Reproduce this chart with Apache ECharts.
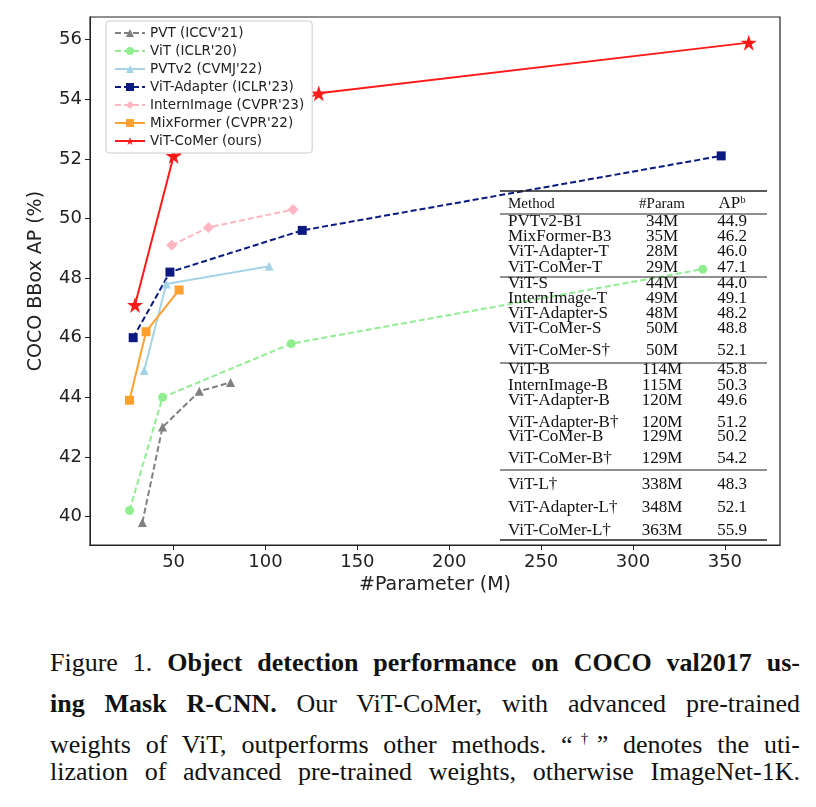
<!DOCTYPE html>
<html><head><meta charset="utf-8">
<script src="https://cdn.jsdelivr.net/npm/echarts@6/dist/echarts.min.js"></script>
<style>
body{margin:0;background:#fff;width:816px;height:807px;overflow:hidden}
#c{width:816px;height:600px}
#cap{position:absolute;left:50px;top:646px;width:750px;font-family:"Liberation Serif",serif;font-size:26px;color:#111}
#cap div{height:34px;line-height:34px;text-align:justify;text-align-last:justify;white-space:nowrap}
#cap div.first{height:41px}
</style></head><body>
<div id="c"></div>
<div id="cap">
<div class="first">Figure 1. <b>Object detection performance on COCO val2017 us-</b></div>
<div><b>ing Mask R-CNN.</b> Our ViT-CoMer, with advanced pre-trained</div>
<div>weights of ViT, outperforms other methods. “<sup style="font-size:15px">†</sup>” denotes the uti-</div>
<div>lization of advanced pre-trained weights, otherwise ImageNet-1K.</div>
</div>
<script>
// data
const pvt = [[33, 39.8], [44, 43.0], [64, 44.2], [81, 44.5]];
const vit = [[26, 40.2], [44, 44.0], [114, 45.8], [338, 48.3]];
const pvtv2 = [[34, 44.9], [46, 47.8], [102, 48.4]];
const vitAdapter = [[28, 46.0], [48, 48.2], [120, 49.6], [348, 52.1]];
const internImage = [[49, 49.1], [69, 49.7], [115, 50.3]];
const mixFormer = [[26, 43.9], [35, 46.2], [53, 47.6]];
const vitComer = [[29, 47.1], [50, 52.1], [129, 54.2], [363, 55.9]];
const xTicks = [50, 100, 150, 200, 250, 300, 350];
const yTicks = [40, 42, 44, 46, 48, 50, 52, 54, 56];

const tableRows = [
  ['PVTv2-B1', '34M', '44.9'], ['MixFormer-B3', '35M', '46.2'], ['ViT-Adapter-T', '28M', '46.0'], ['ViT-CoMer-T', '29M', '47.1'],
  ['ViT-S', '44M', '44.0'], ['InternImage-T', '49M', '49.1'], ['ViT-Adapter-S', '48M', '48.2'], ['ViT-CoMer-S', '50M', '48.8'], ['ViT-CoMer-S†', '50M', '52.1'],
  ['ViT-B', '114M', '45.8'], ['InternImage-B', '115M', '50.3'], ['ViT-Adapter-B', '120M', '49.6'], ['ViT-Adapter-B†', '120M', '51.2'], ['ViT-CoMer-B', '129M', '50.2'], ['ViT-CoMer-B†', '129M', '54.2'],
  ['ViT-L†', '338M', '48.3'], ['ViT-Adapter-L†', '348M', '52.1'], ['ViT-CoMer-L†', '363M', '55.9']
];
const rowY = [222, 237, 252, 268, 284, 299, 314, 329, 351, 370, 386, 401, 423, 437, 459, 485, 508, 531];
const ruleY = [191, 214, 277, 363, 470, 540];

const star = 'path://M50,0 L61.8,35.4 L99,35.4 L69,57.3 L80.3,92.7 L50,70.8 L19.7,92.7 L31,57.3 L1,35.4 L38.2,35.4 Z';

const chart = echarts.init(document.getElementById('c'));
function s(name, data, color, symbol, size, dashed) {
  return {
    name, type: 'line', data, symbol, symbolSize: size,
    lineStyle: {color, width: 2, type: dashed ? [6, 3] : 'solid'},
    itemStyle: {color}
  };
}
const serif = '"Liberation Serif", serif';
const g = [];
ruleY.forEach((y, i) => g.push({type: 'line', shape: {x1: 500, y1: y, x2: 767, y2: y}, style: {stroke: '#222', lineWidth: i === 0 || i === 5 ? 1.5 : 1.2}, z: 100}));
g.push({type: 'text', x: 508, y: 204, style: {text: 'Method', font: '15px ' + serif, fill: '#111', verticalAlign: 'middle'}, z: 100});
g.push({type: 'text', x: 662, y: 204, style: {text: '#Param', font: '15px ' + serif, fill: '#111', align: 'center', verticalAlign: 'middle'}, z: 100});
g.push({type: 'text', x: 732, y: 204, style: {text: 'AP\u1D47', font: '17px ' + serif, fill: '#111', align: 'center', verticalAlign: 'middle'}, z: 100});
tableRows.forEach((r, i) => {
  g.push({type: 'text', x: 508, y: rowY[i], style: {text: r[0], font: '17px ' + serif, fill: '#111', verticalAlign: 'middle'}, z: 100});
  g.push({type: 'text', x: 662, y: rowY[i], style: {text: r[1], font: '17px ' + serif, fill: '#111', align: 'center', verticalAlign: 'middle'}, z: 100});
  g.push({type: 'text', x: 732, y: rowY[i], style: {text: r[2], font: '17px ' + serif, fill: '#111', align: 'center', verticalAlign: 'middle'}, z: 100});
});

chart.setOption({
  animation: false,
  textStyle: {fontFamily: 'DejaVu Sans'},
  grid: {left: 90, right: 36, top: 17, bottom: 47, show: true, borderColor: '#222', borderWidth: 1.2},
  legend: {
    orient: 'vertical', left: 106, top: 21, itemWidth: 30, itemHeight: 10, itemGap: 4,
    backgroundColor: '#fff', borderColor: '#ccc', borderWidth: 1, borderRadius: 3, padding: [5, 8],
    textStyle: {fontSize: 13.5, color: '#222', fontFamily: 'DejaVu Sans'}
  },
  xAxis: {
    type: 'value', min: 4.5, max: 380,
    name: '#Parameter (M)', nameLocation: 'middle', nameGap: 30, nameTextStyle: {fontSize: 19, color: '#222'},
    axisLabel: {fontSize: 18, color: '#222', customValues: xTicks},
    axisTick: {customValues: xTicks, length: 5, lineStyle: {color: '#222'}},
    axisLine: {lineStyle: {color: '#222'}}, splitLine: {show: false}
  },
  yAxis: {
    type: 'value', min: 39.04, max: 56.76,
    name: 'COCO BBox AP (%)', nameLocation: 'middle', nameGap: 44, nameTextStyle: {fontSize: 19, color: '#222'},
    axisLabel: {fontSize: 18, color: '#222', customValues: yTicks},
    axisTick: {customValues: yTicks, length: 5, lineStyle: {color: '#222'}},
    axisLine: {show: true, lineStyle: {color: '#222'}}, splitLine: {show: false}
  },
  series: [
    s("PVT (ICCV'21)", pvt, '#808080', 'triangle', 9, true),
    s("ViT (ICLR'20)", vit, '#90ee90', 'circle', 9, true),
    s("PVTv2 (CVMJ'22)", pvtv2, '#a6d4e6', 'triangle', 9, false),
    s("ViT-Adapter (ICLR'23)", vitAdapter, '#0a1a80', 'rect', 9, true),
    s("InternImage (CVPR'23)", internImage, '#ffb6c1', 'diamond', 11, true),
    s("MixFormer (CVPR'22)", mixFormer, '#ffa030', 'rect', 9, false),
    s('ViT-CoMer (ours)', vitComer, '#ff1a1a', star, 16, false)
  ],
  graphic: g
});
</script>
</body></html>
